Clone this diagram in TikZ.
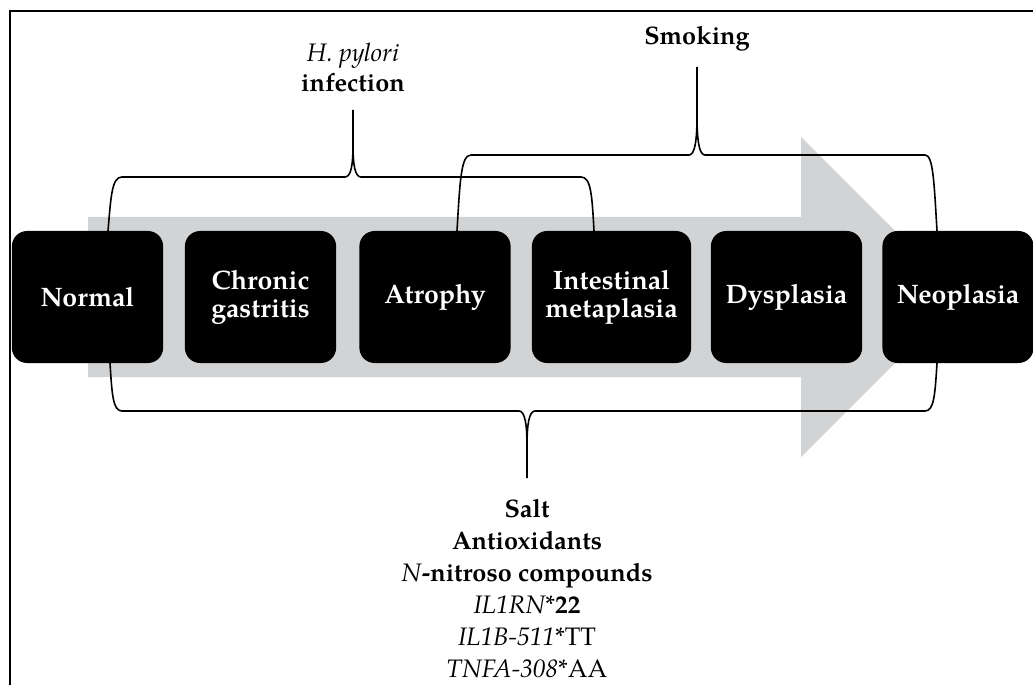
\documentclass[tikz,border=0pt]{standalone}
\usepackage{fontspec}
\setmainfont{TeX Gyre Pagella}
\definecolor{arrowgray}{RGB}{210,211,213}

\begin{document}
\begin{tikzpicture}[
    x=0.25mm, y=-0.25mm,
    stage/.style={fill=black, rounded corners=3.8mm, minimum width=37.8mm,
        minimum height=33mm, inner sep=0pt, align=center, text=white,
        font=\bfseries\fontsize{19}{20}\selectfont},
    factor/.style={align=center, inner sep=0pt,
        font=\bfseries\fontsize{18}{21.5}\selectfont},
    bracket/.style={line width=0.4mm, line join=round}
]

% ============================================================
% Rahmen (nur oben und links sichtbar)
% ============================================================
\clip (0,0) rectangle (1033,685);
\draw[line width=0.5mm] (10,690) -- (10,11) -- (1040,11);

% ============================================================
% Grauer Fortschrittspfeil
% ============================================================
\fill[arrowgray]
    (88,217) -- (801,217) -- (801,137) -- (961,297) --
    (801,457) -- (801,377) -- (88,377) -- cycle;

% ============================================================
% Klammern (Schenkel enden an den Kästen)
% ============================================================

% H. pylori: Normal bis Intestinal metaplasia
\draw[bracket]
    (108,231) .. controls (111,195) and (112,177) .. (122,177) --
    (345,177) .. controls (351,177) and (353,165) .. (353,145) -- (353,110);
\draw[bracket]
    (353,145) .. controls (353,165) and (355,177) .. (361,177) --
    (581,177) .. controls (591,177) and (592,195) .. (594,231);

% Smoking: Atrophy bis Neoplasia
\draw[bracket]
    (457,231) .. controls (460,180) and (461,155) .. (471,155) --
    (689,155) .. controls (695,155) and (697,140) .. (697,115) -- (697,67);
\draw[bracket]
    (697,115) .. controls (697,140) and (699,155) .. (705,155) --
    (925,155) .. controls (933,155) and (934,180) .. (937,231);

% Ernährung und Genetik: Normal bis Neoplasia
\draw[bracket]
    (110,363) .. controls (112,395) and (113,411) .. (122,411) --
    (519,411) .. controls (525,411) and (527,425) .. (527,445) -- (527,478);
\draw[bracket]
    (527,445) .. controls (527,425) and (529,411) .. (535,411) --
    (925,411) .. controls (934,411) and (935,395) .. (937,363);

% ============================================================
% Stadien
% ============================================================
\node[stage] (normal)     at (87.5,297)  {Normal};
\node[stage] (gastritis)  at (260.5,297) {Chronic\\gastritis};
\node[stage] (atrophy)    at (435,297)   {Atrophy};
\node[stage, minimum width=39.8mm]
             (metaplasia) at (611.5,297) {Intestinal\\metaplasia};
\node[stage] (dysplasia)  at (786.5,297) {Dysplasia};
\node[stage] (neoplasia)  at (958,297)   {Neoplasia};

% ============================================================
% Risikofaktoren
% ============================================================
\node[factor, anchor=south] (pylori) at (353,92)
    {\textit{\mdseries H. pylori}\\infection};

\node[factor, anchor=base] (smoking) at (697,45) {Smoking};

\node[factor, anchor=north, font=\bfseries\fontsize{18}{22.8}\selectfont]
    (diet) at (527,499)
{
Salt\\
Antioxidants\\
\textit{\mdseries N}-nitroso compounds\\
\textit{\mdseries IL1RN*}22\\
\textit{\mdseries IL1B-511*}{\mdseries TT}\\
\textit{\mdseries TNFA-308*}{\mdseries AA}
};

\end{tikzpicture}
\end{document}
